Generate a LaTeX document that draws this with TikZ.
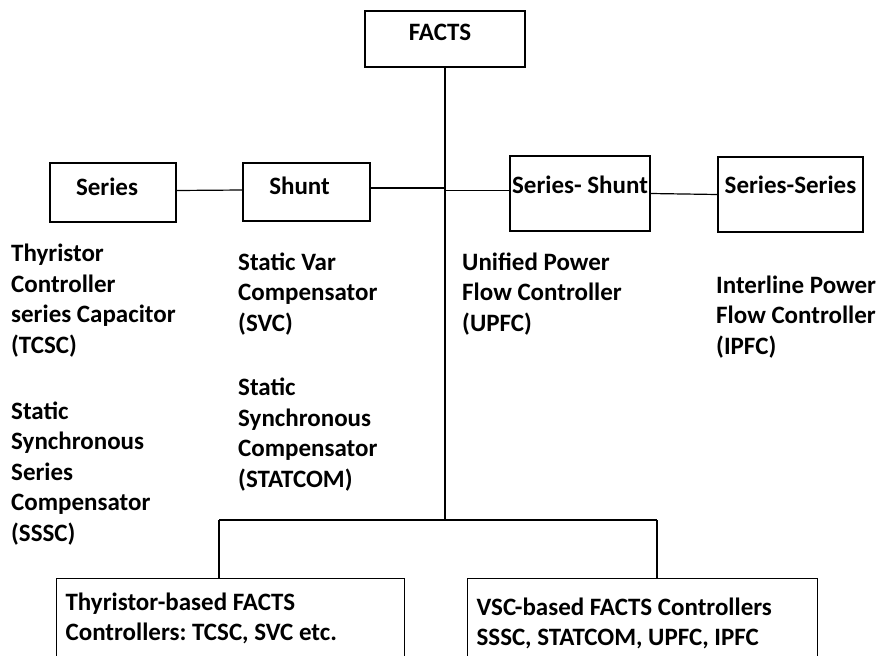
\documentclass[tikz,border=0pt]{standalone}
\usepackage{fontspec}
\setmainfont{Carlito}
\usepackage{tikz}
\usetikzlibrary{calc,positioning}
\frenchspacing

\tikzset{
  every node/.style={font=\bfseries\fontsize{25}{30.5}\selectfont},
  box/.style={draw, line width=1.2pt, inner sep=0pt, text height=16pt},
  txt/.style={align=left, inner sep=0pt, anchor=base west},
  wire/.style={line width=1.2pt}
}

\begin{document}
\begin{tikzpicture}[x=1pt,y=-1pt]
        \useasboundingbox (0,0) rectangle (881,656);
        %Top level boxes
        \node[box, minimum width=160, minimum height=56, text depth=13pt] (facts) at (445,39) {FACTS\kern10pt};
        \node[box, minimum width=126, minimum height=59, text depth=11pt] (ser) at (113,192.5) {Series\kern12pt};
        \node[box, minimum width=127, minimum height=58, text depth=12pt] (sh) at (306.5,192) {Shunt\kern14pt};
        \node[box, minimum width=140, minimum height=75, text depth=17pt] (sersh) at (580,193.5) {Series- Shunt};
        \node[box, minimum width=145, minimum height=75, text depth=19pt] (serser) at (790.5,194.5) {Series-Series};
        %Controller lists (placed at the baseline of the last line)
        \node[txt] (tcsc) at (11,353) {Thyristor\\Controller\\series Capacitor\\(TCSC)};
        \node[txt] (sssc) at (11,541) {Static\\Synchronous\\Series\\Compensator\\(SSSC)};
        \node[txt] (svc) at (238,331) {Static Var\\Compensator\\(SVC)};
        \node[txt] (statcom) at (238,487) {Static\\Synchronous\\Compensator\\(STATCOM)};
        \node[txt] (upfc) at (462,331) {Unified Power\\Flow Controller\\(UPFC)};
        \node[txt] (ipfc) at (716,354) {Interline Power\\Flow Controller\\(IPFC)};
        %Bottom boxes
        \node[box, anchor=north west, inner xsep=9pt, inner ysep=0pt, text height=] (thy) at (56,578)
          {\begin{minipage}[t][100pt][t]{330pt}\vspace{14pt}Thyristor-based FACTS\\Controllers: TCSC, SVC etc.\end{minipage}};
        \node[box, anchor=north west, inner xsep=9pt, inner ysep=0pt, text height=] (vsc) at (467,578)
          {\begin{minipage}[t][100pt][t]{332pt}\vspace{19pt}VSC-based FACTS Controllers\\SSSC, STATCOM, UPFC, IPFC\end{minipage}};
        \coordinate (jn) at (445,520);
        \coordinate (lft) at (219,520);
        \coordinate (rgt) at (657,520);
        %Lines
        \draw[wire] (facts.south) -- (jn);
        \draw[wire] ([yshift=2pt]ser.east) -- ([yshift=2pt]sh.west);
        \draw[wire] ([yshift=4pt]sh.east) -- ([yshift=4pt]sh.east -| jn);
        \draw[wire] ([yshift=3pt]sersh.west -| jn) -- ([yshift=3pt]sersh.west);
        \draw[wire] (sersh.east) -- (serser.west);
        \draw[wire] (lft) -- (rgt);
        \draw[wire] (lft) -- (lft |- thy.north);
        \draw[wire] (rgt) -- (rgt |- vsc.north);
\end{tikzpicture}
\end{document}
